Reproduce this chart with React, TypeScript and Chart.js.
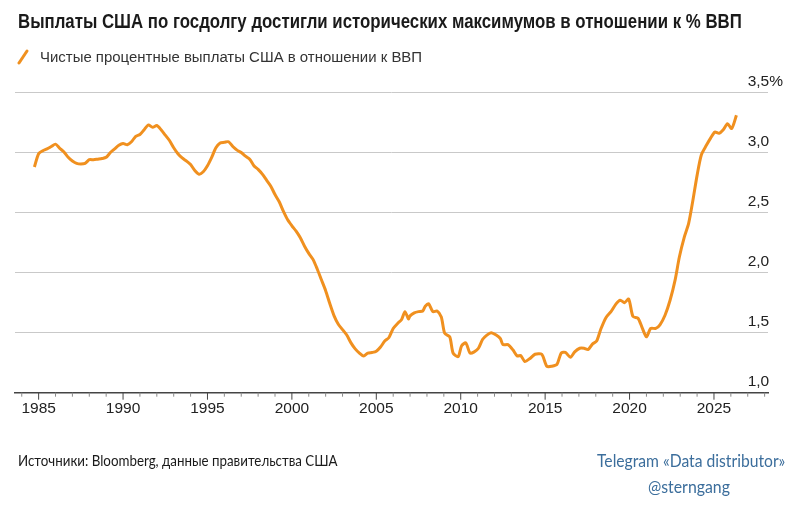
import React, { useEffect, useLayoutEffect, useRef } from "react";
import { Chart, registerables } from "chart.js";

Chart.register(...registerables);

// Year (decimal) of each observation
const years: number[] = [
  1984.75, 1985.0, 1985.25, 1985.5, 1985.75, 1986.0, 1986.25, 1986.5, 1986.75, 1987.0,
  1987.25, 1987.5, 1987.75, 1988.0, 1988.25, 1988.5, 1988.75, 1989.0, 1989.25, 1989.5,
  1989.75, 1990.0, 1990.25, 1990.5, 1990.75, 1991.0, 1991.25, 1991.5, 1991.75, 1992.0,
  1992.25, 1992.5, 1992.75, 1993.0, 1993.25, 1993.5, 1993.75, 1994.0, 1994.25, 1994.5,
  1994.75, 1995.0, 1995.25, 1995.5, 1995.75, 1996.0, 1996.25, 1996.5, 1996.75, 1997.0,
  1997.25, 1997.5, 1997.75, 1998.0, 1998.25, 1998.5, 1998.75, 1999.0, 1999.25, 1999.5,
  1999.75, 2000.0, 2000.25, 2000.5, 2000.75, 2001.0, 2001.25, 2001.5, 2001.75, 2002.0,
  2002.25, 2002.5, 2002.75, 2003.0, 2003.25, 2003.5, 2003.75, 2004.0, 2004.25, 2004.5,
  2004.75, 2005.0, 2005.25, 2005.5, 2005.75, 2006.0, 2006.25, 2006.5, 2006.7, 2006.9,
  2007.0, 2007.25, 2007.5, 2007.75, 2007.9, 2008.1, 2008.35, 2008.6, 2008.85, 2009.05,
  2009.35, 2009.55, 2009.85, 2010.05, 2010.3, 2010.55, 2010.8, 2011.05, 2011.3, 2011.55,
  2011.8, 2012.1, 2012.35, 2012.5, 2012.8, 2013.1, 2013.35, 2013.55, 2013.8, 2014.1,
  2014.4, 2014.8, 2015.1, 2015.4, 2015.7, 2015.95, 2016.2, 2016.5, 2016.75, 2017.05,
  2017.3, 2017.55, 2017.8, 2018.05, 2018.3, 2018.6, 2018.9, 2019.2, 2019.45, 2019.7,
  2019.95, 2020.2, 2020.5, 2020.75, 2021.0, 2021.25, 2021.55, 2021.8, 2022.1, 2022.4,
  2022.7, 2022.95, 2023.25, 2023.5, 2023.75, 2024.0, 2024.25, 2024.55, 2024.8, 2025.05,
  2025.3, 2025.55, 2025.8, 2026.05, 2026.33,
];

// Net interest payments, % of GDP
const values: number[] = [
  2.88, 2.99, 3.015, 3.03, 3.05, 3.07, 3.035, 3.005, 2.96, 2.93,
  2.91, 2.905, 2.91, 2.94, 2.94, 2.945, 2.95, 2.96, 3.0, 3.03,
  3.06, 3.075, 3.065, 3.09, 3.135, 3.15, 3.19, 3.23, 3.21, 3.225,
  3.19, 3.145, 3.1, 3.04, 2.99, 2.955, 2.93, 2.9, 2.85, 2.82,
  2.84, 2.89, 2.96, 3.04, 3.08, 3.085, 3.09, 3.05, 3.02, 3.0,
  2.97, 2.945, 2.89, 2.86, 2.82, 2.77, 2.72, 2.65, 2.59, 2.51,
  2.44, 2.39, 2.345, 2.29, 2.22, 2.16, 2.11, 2.03, 1.94, 1.85,
  1.74, 1.64, 1.57, 1.525, 1.48, 1.415, 1.365, 1.33, 1.305, 1.33,
  1.335, 1.345, 1.38, 1.43, 1.46, 1.535, 1.575, 1.61, 1.675, 1.615,
  1.64, 1.665, 1.675, 1.68, 1.72, 1.74, 1.675, 1.68, 1.63, 1.495,
  1.465, 1.33, 1.3, 1.39, 1.415, 1.33, 1.34, 1.37, 1.445, 1.48,
  1.5, 1.48, 1.45, 1.4, 1.4, 1.355, 1.305, 1.31, 1.26, 1.285,
  1.32, 1.32, 1.22, 1.22, 1.235, 1.33, 1.335, 1.295, 1.34, 1.37,
  1.37, 1.36, 1.405, 1.43, 1.53, 1.625, 1.675, 1.74, 1.77, 1.75,
  1.78, 1.635, 1.62, 1.54, 1.465, 1.535, 1.535, 1.565, 1.645, 1.77,
  1.94, 2.13, 2.3, 2.41, 2.6, 2.81, 2.98, 3.06, 3.12, 3.17,
  3.16, 3.19, 3.24, 3.2, 3.31,
];

const seriesLabel = "Чистые процентные выплаты США в отношении к ВВП";
const titleText = "Выплаты США по госдолгу достигли исторических максимумов в отношении к % ВВП";
const sourceText = "Источники: Bloomberg, данные правительства США";
const creditLine1 = "Telegram «Data distributor»";
const creditLine2 = "@sterngang";

const yMin = 1.0;
const yMax = 3.5;
const yStep = 0.5;
const xMin = 1983.6;
const xMax = 2028.2;
const xMajorEvery = 5;

const ORANGE = "#f0901f";

const tickMarksPlugin = {
  id: "tickMarks",
  afterDraw(chart: any) {
    const s = chart.scales.x;
    const ctx = chart.ctx;
    const y0 = chart.chartArea.bottom;
    ctx.save();
    s.ticks.forEach((t: any) => {
      const px = s.getPixelForValue(t.value);
      const major = Math.round(t.value) % xMajorEvery === 0;
      ctx.strokeStyle = major ? "#444" : "#8a8a8a";
      ctx.lineWidth = 1;
      ctx.beginPath();
      ctx.moveTo(px, y0);
      ctx.lineTo(px, y0 + (major ? 7 : 4));
      ctx.stroke();
    });
    ctx.restore();
  },
};

function FitText(props: { text: string; width: number; origin?: string; style?: any }) {
  const ref = useRef<HTMLSpanElement | null>(null);
  useLayoutEffect(() => {
    const el = ref.current;
    if (!el) return;
    el.style.transform = "none";
    const w = el.offsetWidth;
    if (w > 0) el.style.transform = `scaleX(${props.width / w})`;
  }, [props.text, props.width]);
  return (
    <span
      ref={ref}
      style={{
        display: "inline-block",
        whiteSpace: "nowrap",
        transformOrigin: props.origin || "left center",
        ...(props.style || {}),
      }}
    >
      {props.text}
    </span>
  );
}

export default function App() {
  const canvasRef = useRef<HTMLCanvasElement | null>(null);

  useEffect(() => {
    if (!canvasRef.current) return;
    const data = years.map((x, i) => ({ x, y: values[i] }));
    const chart = new Chart(canvasRef.current, {
      type: "line",
      data: {
        datasets: [
          {
            label: seriesLabel,
            data,
            borderColor: ORANGE,
            borderWidth: 3,
            pointRadius: 0,
            tension: 0.25,
            fill: false,
          },
        ],
      },
      options: {
        animation: false,
        responsive: true,
        maintainAspectRatio: false,
        layout: { padding: { left: 15, right: 2, top: 92.5, bottom: 88.7 } },
        plugins: {
          legend: { display: false },
          title: { display: false },
          tooltip: { enabled: false },
        },
        scales: {
          x: {
            type: "linear",
            min: xMin,
            max: xMax,
            grid: { display: false, drawTicks: false },
            border: { display: true, color: "#444", width: 1.5 },
            ticks: {
              stepSize: 1,
              includeBounds: false,
              autoSkip: false,
              maxRotation: 0,
              maxTicksLimit: 100,
              padding: 7,
              color: "#222",
              font: { family: "'Liberation Sans', Arial, sans-serif", size: 15.5 },
              callback: (v: any) =>
                Math.round(Number(v)) % xMajorEvery === 0 ? String(Math.round(Number(v))) : "",
            },
          },
          y: {
            position: "right",
            min: yMin,
            max: yMax,
            grid: {
              drawTicks: false,
              color: (c: any) => (c.tick && c.tick.value === yMin ? "rgba(0,0,0,0)" : "#c9c9c9"),
              lineWidth: 1,
            },
            border: { display: false },
            ticks: {
              stepSize: yStep,
              mirror: true,
              crossAlign: "far",
              padding: 15,
              labelOffset: -11,
              color: "#222",
              font: { family: "'Liberation Sans', Arial, sans-serif", size: 15.5 },
              callback: (v: any) => {
                const n = Number(v);
                return n.toFixed(1).replace(".", ",") + (n === yMax ? "%" : "");
              },
            },
          },
        },
      },
      plugins: [tickMarksPlugin],
    });
    return () => chart.destroy();
  }, []);

  const sans = "'Liberation Sans', Arial, sans-serif";
  const human = "Lato, 'Open Sans', sans-serif";

  return (
    <div
      style={{
        position: "fixed",
        left: 0,
        top: 0,
        width: 800,
        height: 514,
        background: "#fff",
        overflow: "hidden",
      }}
    >
      <div style={{ position: "absolute", left: 0, top: 0, width: 800, height: 514 }}>
        <canvas ref={canvasRef} />
      </div>
      <div style={{ position: "absolute", left: 18, top: 9, lineHeight: "24px" }}>
        <FitText
          text={titleText}
          width={724}
          style={{ fontFamily: sans, fontWeight: 700, fontSize: 21, color: "#1a1a1a" }}
        />
      </div>
      <svg
        width="14"
        height="18"
        style={{ position: "absolute", left: 16, top: 48 }}
      >
        <line x1="3" y1="15" x2="11" y2="3" stroke={ORANGE} strokeWidth="3" strokeLinecap="round" />
      </svg>
      <div style={{ position: "absolute", left: 40, top: 47, lineHeight: "20px" }}>
        <FitText
          text={seriesLabel}
          width={382}
          style={{ fontFamily: sans, fontSize: 15.5, color: "#333" }}
        />
      </div>
      <div style={{ position: "absolute", left: 18, top: 450, lineHeight: "20px" }}>
        <FitText
          text={sourceText}
          width={320}
          style={{ fontFamily: human, fontSize: 15, color: "#1a1a1a" }}
        />
      </div>
      <div
        style={{
          position: "absolute",
          left: 589,
          top: 448,
          width: 200,
          textAlign: "center",
          lineHeight: "25px",
        }}
      >
        <div>
          <FitText
            text={creditLine1}
            width={188}
            origin="center center"
            style={{ fontFamily: human, fontSize: 17, color: "#3c6e9c" }}
          />
        </div>
        <div>
          <FitText
            text={creditLine2}
            width={82}
            origin="center center"
            style={{ fontFamily: human, fontSize: 17, color: "#3c6e9c" }}
          />
        </div>
      </div>
    </div>
  );
}
